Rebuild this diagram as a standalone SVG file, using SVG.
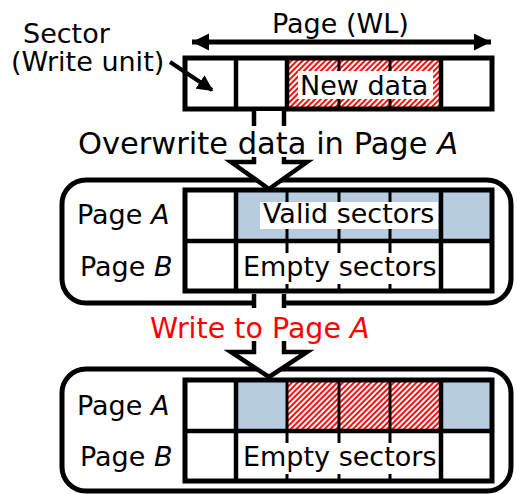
<svg xmlns="http://www.w3.org/2000/svg" width="517" height="494" viewBox="0 0 517 494">
<style>
text{font-family:"DejaVu Sans","Liberation Sans",sans-serif;font-size:27px;fill:#000}
.i{font-style:italic}
.panel{fill:#fff;stroke:#000;stroke-width:5}
.grid{fill:none;stroke:#000;stroke-width:5}
.thin{stroke:#000;stroke-width:3}
.thick{stroke:#000;stroke-width:4.5}
.blue{fill:#b8cce0}
.hatch{fill:url(#hatch)}
.wbox{fill:#fff}
.barrow{fill:#fff;stroke:#000;stroke-width:4.5;stroke-linejoin:miter}
</style>
<defs>
<pattern id="hatch" width="4" height="4" patternUnits="userSpaceOnUse" patternTransform="rotate(45)">
<rect width="4" height="4" fill="#fff"/>
<rect width="1.9" height="4" fill="#ff0000"/>
</pattern>
<marker id="ah" viewBox="0 0 10 10" refX="10" refY="5" markerWidth="3.4" markerHeight="3.6" orient="auto-start-reverse" markerUnits="strokeWidth">
<path d="M0,0 L10,5 L0,10 Z" fill="#000"/>
</marker>
<marker id="ah2" viewBox="0 0 10 10" refX="9" refY="5" markerWidth="4" markerHeight="4" orient="auto" markerUnits="strokeWidth">
<path d="M0,0 L10,5 L0,10 Z" fill="#000"/>
</marker>
</defs>

<!-- Top page row -->
<g id="top-page">
<rect x="185" y="58" width="307" height="51" fill="#fff"/>
<rect x="287" y="58" width="154" height="51" class="hatch"/>
<line x1="339" y1="58" x2="339" y2="109" class="thin"/>
<line x1="390" y1="58" x2="390" y2="109" class="thin"/>
<rect x="298" y="71" width="135" height="28" class="wbox"/>
<text x="300" y="95">New data</text>
<line x1="236" y1="58" x2="236" y2="109" class="thick"/>
<line x1="287" y1="58" x2="287" y2="109" class="thick"/>
<line x1="441" y1="58" x2="441" y2="109" class="thick"/>
<rect x="185" y="58" width="307" height="51" class="grid"/>
</g>

<g id="labels-top">
<text x="272" y="33">Page (WL)</text>
<text x="23" y="43">Sector</text>
<text x="11" y="71">(Write unit)</text>
</g>

<!-- Panel 1 -->
<g id="panel1">
<rect x="62" y="180" width="449" height="123" rx="24" class="panel"/>
<rect x="236" y="190" width="256" height="51" class="blue"/>
<line x1="287" y1="190" x2="287" y2="291" class="thin"/>
<line x1="339" y1="190" x2="339" y2="291" class="thin"/>
<line x1="390" y1="190" x2="390" y2="291" class="thin"/>
<rect x="260" y="202" width="178" height="27" class="wbox"/>
<text x="263" y="223">Valid sectors</text>
<rect x="240" y="253" width="198" height="31" class="wbox"/>
<text x="243" y="276">Empty sectors</text>
<line x1="236" y1="190" x2="236" y2="291" class="thick"/>
<line x1="441" y1="190" x2="441" y2="291" class="thick"/>
<line x1="185" y1="241" x2="492" y2="241" class="thick"/>
<rect x="185" y="190" width="307" height="101" class="grid"/>
<text x="77" y="224">Page <tspan class="i">A</tspan></text>
<text x="80" y="276">Page <tspan class="i">B</tspan></text>
</g>

<!-- Panel 2 -->
<g id="panel2">
<rect x="62" y="369" width="449" height="122" rx="24" class="panel"/>
<rect x="236" y="380" width="51" height="51" class="blue"/>
<rect x="287" y="380" width="154" height="51" class="hatch"/>
<rect x="441" y="380" width="51" height="51" class="blue"/>
<line x1="287" y1="380" x2="287" y2="481" class="thin"/>
<line x1="339" y1="380" x2="339" y2="481" class="thin"/>
<line x1="390" y1="380" x2="390" y2="481" class="thin"/>
<rect x="240" y="443" width="198" height="31" class="wbox"/>
<text x="243" y="466">Empty sectors</text>
<line x1="236" y1="380" x2="236" y2="481" class="thick"/>
<line x1="441" y1="380" x2="441" y2="481" class="thick"/>
<line x1="185" y1="431" x2="492" y2="431" class="thick"/>
<rect x="185" y="380" width="307" height="101" class="grid"/>
<text x="77" y="415">Page <tspan class="i">A</tspan></text>
<text x="80" y="466">Page <tspan class="i">B</tspan></text>
</g>

<!-- Connectors -->
<g id="connectors">
<line x1="192" y1="42" x2="491" y2="42" stroke="#000" stroke-width="5" marker-start="url(#ah)" marker-end="url(#ah)"/>
<line x1="170" y1="62" x2="212" y2="90" stroke="#000" stroke-width="4" marker-end="url(#ah2)"/>
<path d="M254,111 V162 H231 L269,189 L307,162 H284 V111" class="barrow"/>
<path d="M254,294 V352 H231 L269,377 L307,352 H284 V294" class="barrow"/>
</g>

<g id="step-labels">
<rect x="76" y="126" width="388" height="31" class="wbox"/>
<text x="78" y="154" style="font-size:30.5px">Overwrite data in Page <tspan class="i">A</tspan></text>
<rect x="148" y="308" width="242" height="33" class="wbox"/>
<text x="150" y="338" style="font-size:28.5px;fill:#ff0000">Write to Page <tspan class="i">A</tspan></text>
</g>
</svg>
